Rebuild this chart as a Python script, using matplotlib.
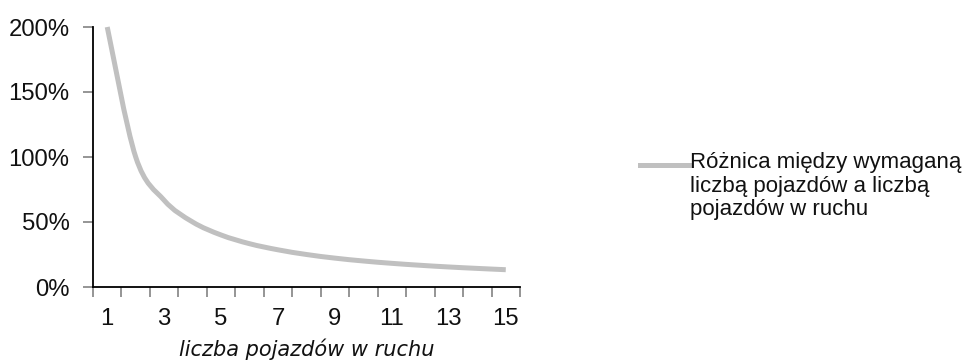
import matplotlib
matplotlib.use("Agg")
import matplotlib.pyplot as plt
import numpy as np
from matplotlib.path import Path
from matplotlib.patches import PathPatch
from matplotlib.lines import Line2D

categories = list(range(1, 16))
values = [200, 100, 66.7, 50, 40, 33.3, 28.6, 25, 22.2, 20, 18.2, 16.7, 15.4, 14.3, 13.3]
tick_labels = ["1", "", "3", "", "5", "", "7", "", "9", "", "11", "", "13", "", "15"]
y_ticks = [0, 50, 100, 150, 200]
y_tick_labels = ["0%", "50%", "100%", "150%", "200%"]
series_label = "Różnica między wymaganą\nliczbą pojazdów a liczbą\npojazdów w ruchu"
x_label = "liczba pojazdów w ruchu"

LINE_COLOR = "#c0c0c0"
TICK_COLOR = "#8c8c8c"

plt.rcParams['font.family'] = ['Liberation Sans', 'DejaVu Sans']

fig = plt.figure(figsize=(9.63, 3.63), dpi=100)
ax = fig.add_axes([93/963, 1 - 287/363, (520-93)/963, (287-27)/363])

# Smoothed (Excel-like) curve through the data points
x = np.array(categories, dtype=float)
y = np.array(values, dtype=float)
verts = [(x[0], y[0])]
codes = [Path.MOVETO]
n = len(x)
for i in range(n - 1):
    p0 = (x[i-1], y[i-1]) if i > 0 else (x[i], y[i])
    p1 = (x[i], y[i])
    p2 = (x[i+1], y[i+1])
    p3 = (x[i+2], y[i+2]) if i + 2 < n else (x[i+1], y[i+1])
    c1 = (p1[0] + (p2[0]-p0[0])/6, p1[1] + (p2[1]-p0[1])/6)
    c2 = (p2[0] - (p3[0]-p1[0])/6, p2[1] - (p3[1]-p1[1])/6)
    verts += [c1, c2, p2]
    codes += [Path.CURVE4]*3
patch = PathPatch(Path(verts, codes), facecolor='none', edgecolor=LINE_COLOR,
                  lw=3.6, capstyle='butt', joinstyle='round', clip_on=False)
ax.add_patch(patch)

ax.set_xlim(0.5, 15.5)
ax.set_ylim(0, 200)

ax.set_xticks(categories)
ax.set_xticklabels(tick_labels)
ax.set_xticks(np.arange(0.5, 16, 1), minor=True)
ax.tick_params(axis='x', which='major', length=0, pad=15, labelsize=17.2, labelcolor='#111111')
ax.tick_params(axis='x', which='minor', length=7, width=1.3, color=TICK_COLOR, direction='out')

ax.set_yticks(y_ticks)
ax.set_yticklabels(y_tick_labels)
ax.tick_params(axis='y', length=7, width=1.3, color=TICK_COLOR, pad=10, labelsize=17.2, labelcolor='#111111')

for s in ['top', 'right']:
    ax.spines[s].set_visible(False)
for s in ['left', 'bottom']:
    ax.spines[s].set_linewidth(1.3)
    ax.spines[s].set_color('black')

ax.set_xlabel(x_label, fontsize=15, style='italic', family=['DejaVu Sans'], labelpad=6, color='#111111')

# Legend
fig.add_artist(Line2D([640/963, 689/963], [1-165/363, 1-165/363], color=LINE_COLOR, lw=3.6,
                      transform=fig.transFigure))
fig.text(690/963, 1-152/363, series_label, fontsize=16, va='top', ha='left',
         linespacing=1.17, color='#111111')

fig.savefig("out.png", dpi=100)
